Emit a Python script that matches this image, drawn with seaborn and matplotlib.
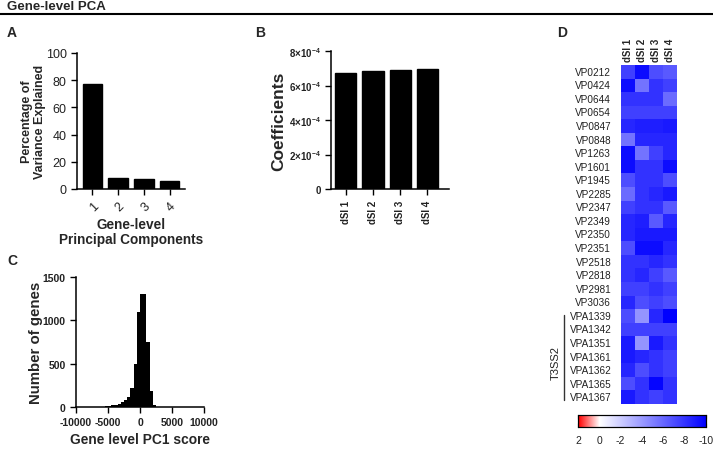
import numpy as np
import pandas as pd
import matplotlib
matplotlib.use("Agg")
import matplotlib.pyplot as plt
from matplotlib.lines import Line2D
from matplotlib.colors import LinearSegmentedColormap
import matplotlib.transforms as mtransforms
import seaborn as sns

# ---- data ----
pc_labels = ["1", "2", "3", "4"]
pc_variance = [77.5, 8.0, 7.5, 6.0]

dsi_labels = ["dSI 1", "dSI 2", "dSI 3", "dSI 4"]
dsi_coefs = [6.72e-4, 6.82e-4, 6.92e-4, 6.97e-4]
coef_ticks = [0, 2e-4, 4e-4, 6e-4, 8e-4]
coef_ticklabels = ["0", r"$\mathregular{2{\times}10^{-4}}$", r"$\mathregular{4{\times}10^{-4}}$",
                   r"$\mathregular{6{\times}10^{-4}}$", r"$\mathregular{8{\times}10^{-4}}$"]

pc1_bin_centers = [-5750, -5250, -4750, -4250, -3750, -3250, -2750, -2250, -1750,
                   -1250, -750, -250, 250, 750, 1250, 1750, 2250, 2750]
gene_counts = [4, 8, 15, 22, 28, 35, 55, 80, 117,
               225, 500, 1100, 1300, 1300, 750, 190, 25, 5]

genes = ["VP0212", "VP0424", "VP0644", "VP0654", "VP0847", "VP0848", "VP1263",
         "VP1601", "VP1945", "VP2285", "VP2347", "VP2349", "VP2350", "VP2351",
         "VP2518", "VP2818", "VP2981", "VP3036", "VPA1339", "VPA1342", "VPA1351",
         "VPA1361", "VPA1362", "VPA1365", "VPA1367"]
dsi1 = [-7.5, -9.5, -8.0, -7.5, -8.5, -5.5, -9.5, -9.5, -7.0, -5.8, -7.5, -8.5, -8.5,
        -7.0, -8.0, -8.0, -7.5, -8.5, -7.0, -7.5, -9.0, -9.0, -8.5, -7.0, -9.0]
dsi2 = [-9.5, -5.5, -8.0, -7.5, -8.8, -8.5, -5.5, -8.0, -8.0, -8.0, -8.0, -8.8, -9.0,
        -9.5, -8.0, -8.5, -7.5, -7.0, -4.2, -7.5, -4.2, -8.5, -7.0, -8.0, -8.0]
dsi3 = [-7.0, -8.0, -8.0, -7.5, -8.8, -8.5, -7.5, -8.0, -8.0, -8.5, -8.0, -6.5, -9.0,
        -9.5, -8.5, -7.5, -8.0, -7.5, -8.5, -7.5, -9.0, -8.0, -8.0, -9.8, -7.5]
dsi4 = [-6.5, -7.5, -5.8, -7.5, -9.0, -8.5, -8.5, -9.5, -7.0, -9.0, -6.5, -8.5, -9.0,
        -8.5, -8.0, -6.5, -7.5, -7.0, -10.0, -7.5, -8.0, -7.5, -7.5, -8.0, -8.0]
cbar_ticks = [2, 0, -2, -4, -6, -8, -10]

# ---- style ----
sns.set_theme(style="ticks")
plt.rcParams["font.family"] = ["Liberation Sans", "DejaVu Sans"]
plt.rcParams["axes.unicode_minus"] = False
plt.rcParams["mathtext.fontset"] = "custom"
plt.rcParams["mathtext.rm"] = "Liberation Sans:bold"
plt.rcParams["mathtext.bf"] = "Liberation Sans:bold"

W, H = 713, 452
fig = plt.figure(figsize=(W / 100, H / 100), dpi=100)


def box(x0, y0, x1, y1):
    return [x0 / W, 1 - y1 / H, (x1 - x0) / W, (y1 - y0) / H]


def style_axis(ax):
    sns.despine(ax=ax)
    for s in ["left", "bottom"]:
        ax.spines[s].set_linewidth(1.1)
        ax.spines[s].set_color("black")
    ax.tick_params(length=4, width=1, color="black", labelcolor="#222222")


# title and rule
fig.text(7 / W, 1 - 1 / H, "Gene-level PCA", fontsize=9.5, fontweight="bold", va="top")
fig.add_artist(Line2D([0, 1], [1 - 15 / H] * 2, transform=fig.transFigure, color="black", lw=1.5))

for lbl, x, y in [("A", 7, 37), ("B", 255, 37), ("C", 7, 265), ("D", 557, 37)]:
    fig.text(x / W, 1 - y / H, lbl, fontsize=10, fontweight="bold", va="baseline")

# ---- Panel A ----
axA = fig.add_axes(box(77, 54, 185, 190))
sns.barplot(x=pc_labels, y=pc_variance, color="black", edgecolor="black", width=0.77,
            saturation=1, ax=axA)
axA.set_xlim(-0.6, 3.6)
axA.set_ylim(0, 100)
axA.set_yticks([0, 20, 40, 60, 80, 100])
style_axis(axA)
axA.tick_params(axis="both", labelsize=9)
for t in axA.get_xticklabels():
    t.set_rotation(45)
    t.set_ha("right")
    t.set_rotation_mode("anchor")
axA.set_xlabel("Gene-level\nPrincipal Components", fontsize=9.8, fontweight="bold", labelpad=3,
               linespacing=1.1)
axA.set_ylabel("Percentage of\nVariance Explained", fontsize=9.0, fontweight="bold", labelpad=0,
               linespacing=1.1)

# ---- Panel B ----
axB = fig.add_axes(box(331, 52, 449, 190))
sns.barplot(x=dsi_labels, y=dsi_coefs, color="black", edgecolor="black", width=0.78,
            saturation=1, ax=axB)
axB.set_xlim(-0.55, 3.8)
axB.set_ylim(0, 8e-4)
axB.set_yticks(coef_ticks)
axB.set_yticklabels(coef_ticklabels)
style_axis(axB)
axB.tick_params(axis="y", labelsize=7)
axB.tick_params(axis="x", labelsize=7)
for t in axB.get_xticklabels() + axB.get_yticklabels():
    t.set_fontweight("bold")
for t in axB.get_xticklabels():
    t.set_rotation(90)
axB.set_ylabel("Coefficients", fontsize=12.5, fontweight="bold", labelpad=2)
axB.set_xlabel("")

# ---- Panel C ----
axC = fig.add_axes(box(76, 278, 204, 408))
sns.histplot(x=pc1_bin_centers, weights=gene_counts, binwidth=500, binrange=(-6000, 3000),
             color="black", edgecolor="black", linewidth=0, alpha=1, ax=axC)
axC.set_xlim(-10000, 10000)
axC.set_ylim(0, 1500)
axC.set_xticks([-10000, -5000, 0, 5000, 10000])
axC.set_yticks([0, 500, 1000, 1500])
style_axis(axC)
axC.tick_params(axis="both", labelsize=7.5)
for t in axC.get_xticklabels() + axC.get_yticklabels():
    t.set_fontweight("bold")
axC.set_xlabel("Gene level PC1 score", fontsize=9.9, fontweight="bold", labelpad=3)
axC.set_ylabel("Number of genes", fontsize=10.8, fontweight="bold", labelpad=0)

# ---- Panel D ----
axD = fig.add_axes(box(621, 66, 677, 405))
cax = fig.add_axes(box(578, 416, 706, 428))
df = pd.DataFrame({"dSI 1": dsi1, "dSI 2": dsi2, "dSI 3": dsi3, "dSI 4": dsi4}, index=genes)
cmap = LinearSegmentedColormap.from_list(
    "blue_white_red", [(0.0, "#0000ff"), (10 / 12, "#ffffff"), (1.0, "#ff0000")])
sns.heatmap(df, cmap=cmap, vmin=-10, vmax=2, ax=axD, cbar_ax=cax,
            xticklabels=True, yticklabels=True,
            cbar_kws={"orientation": "horizontal", "ticks": cbar_ticks})
axD.xaxis.tick_top()
axD.tick_params(length=0, pad=3)
axD.set_xticklabels(df.columns, rotation=90, fontsize=7, fontweight="bold")
axD.set_yticklabels(genes, rotation=0, fontsize=7.2, color="#222222")
axD.tick_params(axis="y", pad=7)

cax.invert_xaxis()
cax.tick_params(axis="x", direction="in", length=3, width=0.8, labelsize=7.5,
                bottom=True, top=True, pad=6, labelcolor="#222222")
cax.set_xticks(cbar_ticks)
cax.set_xticklabels([str(t) for t in cbar_ticks])
for s in cax.spines.values():
    s.set_visible(True)
    s.set_linewidth(0.8)
    s.set_color("black")

trans = mtransforms.blended_transform_factory(axD.transAxes, axD.transData)
axD.add_line(Line2D([-1.02, -1.02], [18.4, 24.7], transform=trans, color="#333333", lw=1,
                    clip_on=False))
axD.text(-1.17, 21.9, "T3SS2", transform=trans, rotation=90, ha="center", va="center",
         fontsize=8, color="#222222")

fig.savefig("out.png", dpi=100)
